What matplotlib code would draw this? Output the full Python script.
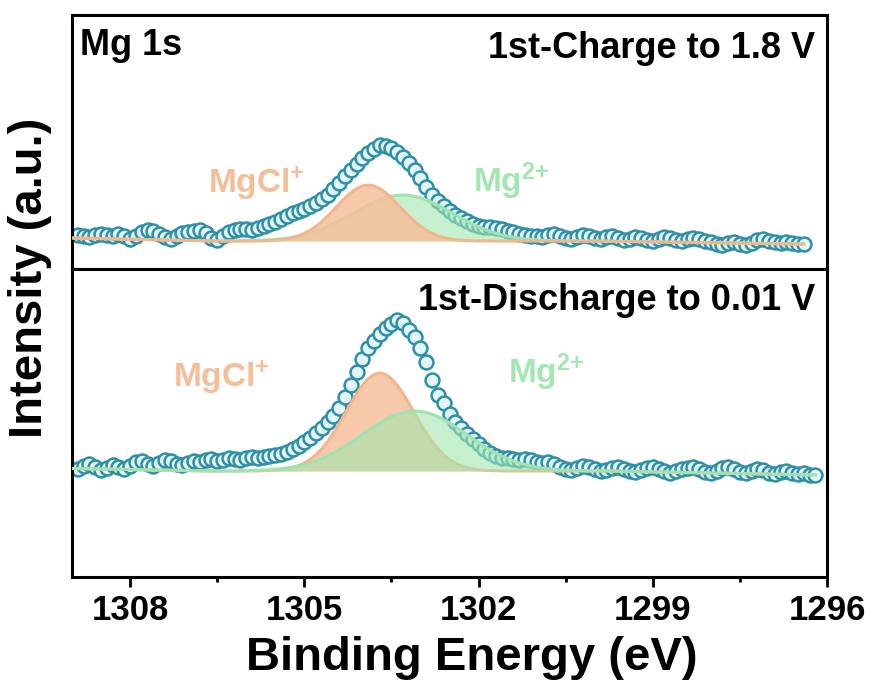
import numpy as np
import matplotlib
matplotlib.use("Agg")
import matplotlib.pyplot as plt

plt.rcParams["font.family"] = ["Liberation Sans", "DejaVu Sans"]
plt.rcParams["font.weight"] = "bold"
plt.rcParams["axes.labelweight"] = "bold"
plt.rcParams["mathtext.fontset"] = "custom"
plt.rcParams["mathtext.rm"] = "Liberation Sans:bold"
plt.rcParams["mathtext.bf"] = "Liberation Sans:bold"
plt.rcParams["mathtext.default"] = "rm"

# ---- Mg 1s, 1st charge to 1.8 V (0.1 eV step) ----
be_charge = np.round(np.arange(1308.9, 1296.35, -0.1), 1)
counts_charge = [
    34, 33, 32, 34, 35, 34, 33, 35, 33, 30,
    33, 37, 39, 38, 35, 32, 30, 33, 36, 37,
    38, 39, 36, 31, 29, 33, 37, 39, 40, 40,
    39, 41, 43, 45, 47, 50, 53, 56, 58, 60,
    63, 66, 70, 74, 80, 86, 93, 99, 105, 111,
    116, 120, 124, 123, 121, 117, 112, 106, 99, 91,
    82, 74, 68, 63, 58, 54, 51, 48, 45, 43,
    42, 42, 41, 40, 38, 37, 35, 34, 33, 33,
    32, 34, 35, 33, 31, 30, 32, 34, 33, 31,
    30, 32, 33, 31, 29, 30, 32, 31, 29, 28,
    30, 32, 31, 29, 28, 30, 31, 30, 28, 27,
    25, 24, 26, 27, 25, 24, 26, 29, 30, 28,
    27, 26, 27, 26, 25, 25,
]
# fitted components (height above background)
fit_be_charge = np.round(np.arange(1306.5, 1299.95, -0.1), 1)
mgcl_charge = [
    0.0, 0.0, 0.0, 0.0, 0.0, 0.0, 0.1, 0.1, 0.3, 0.5,
    0.8, 1.4, 2.2, 3.4, 5.2, 7.6, 10.7, 14.7, 19.4, 24.9,
    30.9, 37.0, 43.0, 48.3, 52.4, 55.1, 56.0, 55.1, 52.4, 48.3,
    43.0, 37.0, 30.9, 24.9, 19.4, 14.7, 10.7, 7.6, 5.2, 3.4,
    2.2, 1.4, 0.8, 0.5, 0.3, 0.1, 0.1, 0.0, 0.0, 0.0,
    0.0, 0.0, 0.0, 0.0, 0.0, 0.0, 0.0, 0.0, 0.0, 0.0,
    0.0, 0.0, 0.0, 0.0, 0.0, 0.0,
]
mg2_charge = [
    0.0, 0.0, 0.1, 0.1, 0.2, 0.3, 0.4, 0.6, 0.9, 1.2,
    1.6, 2.2, 2.9, 3.8, 4.9, 6.2, 7.8, 9.7, 11.8, 14.3,
    17.0, 19.9, 23.0, 26.3, 29.5, 32.8, 35.9, 38.7, 41.2, 43.2,
    44.7, 45.7, 46.0, 45.7, 44.7, 43.2, 41.2, 38.7, 35.9, 32.8,
    29.5, 26.3, 23.0, 19.9, 17.0, 14.3, 11.8, 9.7, 7.8, 6.2,
    4.9, 3.8, 2.9, 2.2, 1.6, 1.2, 0.9, 0.6, 0.4, 0.3,
    0.2, 0.1, 0.1, 0.0, 0.0, 0.0,
]
bg_charge = (31.0, 28.0, 25.0)  # left edge, under peaks, right end

# ---- Mg 1s, 1st discharge to 0.01 V ----
be_discharge = np.round(np.arange(1308.9, 1296.15, -0.1), 1)
counts_discharge = [
    108, 111, 113, 110, 107, 109, 112, 110, 108, 111,
    115, 116, 113, 111, 114, 117, 116, 113, 112, 114,
    116, 115, 117, 118, 116, 117, 119, 118, 117, 119,
    120, 119, 120, 121, 122, 123, 125, 128, 131, 135,
    139, 144, 149, 155, 161, 169, 180, 192, 205, 218,
    229, 236, 243, 249, 253, 257, 254, 247, 240, 229,
    215, 197, 182, 174, 163, 155, 149, 143, 138, 133,
    128, 124, 121, 119, 119, 118, 117, 118, 117, 115,
    114, 115, 113, 110, 108, 107, 109, 111, 110, 108,
    106, 107, 109, 110, 108, 106, 105, 107, 109, 110,
    108, 106, 104, 106, 108, 109, 110, 108, 105, 104,
    106, 109, 110, 108, 105, 104, 106, 108, 107, 104,
    103, 105, 106, 104, 103, 104, 102, 102,
]
fit_be_discharge = np.round(np.arange(1306.6, 1299.75, -0.1), 1)
mgcl_discharge = [
    0.0, 0.0, 0.0, 0.0, 0.0, 0.0, 0.0, 0.1, 0.1, 0.3,
    0.5, 0.8, 1.3, 2.2, 3.5, 5.3, 8.0, 11.5, 16.2, 22.2,
    29.4, 37.9, 47.3, 57.4, 67.6, 77.3, 85.7, 92.3, 96.6, 98.0,
    96.6, 92.3, 85.7, 77.3, 67.6, 57.4, 47.3, 37.9, 29.4, 22.2,
    16.2, 11.5, 8.0, 5.3, 3.5, 2.2, 1.3, 0.8, 0.5, 0.3,
    0.1, 0.1, 0.0, 0.0, 0.0, 0.0, 0.0, 0.0, 0.0, 0.0,
    0.0, 0.0, 0.0, 0.0, 0.0, 0.0, 0.0, 0.0, 0.0,
]
mg2_discharge = [
    0.0, 0.0, 0.0, 0.1, 0.1, 0.2, 0.3, 0.5, 0.7, 0.9,
    1.3, 1.7, 2.3, 3.0, 3.9, 5.1, 6.5, 8.1, 10.1, 12.4,
    15.0, 17.9, 21.1, 24.7, 28.4, 32.4, 36.4, 40.4, 44.3, 48.0,
    51.4, 54.4, 56.8, 58.5, 59.6, 60.0, 59.6, 58.5, 56.8, 54.4,
    51.4, 48.0, 44.3, 40.4, 36.4, 32.4, 28.4, 24.7, 21.1, 17.9,
    15.0, 12.4, 10.1, 8.1, 6.5, 5.1, 3.9, 3.0, 2.3, 1.7,
    1.3, 0.9, 0.7, 0.5, 0.3, 0.2, 0.1, 0.1, 0.0,
]
bg_discharge = (108.5, 106.0, 102.0)

ORANGE_FILL, ORANGE_EDGE = "#F4C09B", "#F3B58C"
GREEN_FILL, GREEN_EDGE = "#A3E6B0", "#9FE3AE"
DOT_EDGE, DOT_FACE = "#2E8FA8", "#E2F6FB"
X_LEFT, X_RIGHT = 1309, 1296


def draw_panel(ax, be, counts, fit_be, mgcl, mg2, bg, mgcl_on_top):
    ax.plot(be, counts, "o", ms=10, mfc=DOT_FACE, mec=DOT_EDGE, mew=1.8, zorder=2)
    comps = [(mgcl, ORANGE_FILL, ORANGE_EDGE, 0.85), (mg2, GREEN_FILL, GREEN_EDGE, 0.6)]
    if mgcl_on_top:
        comps = comps[::-1]
    for i, (comp, fc, ec, a) in enumerate(comps):
        top = bg[1] + np.asarray(comp)
        ax.fill_between(fit_be, bg[1], top, color=fc, alpha=a, lw=0, zorder=3 + i)
        ax.plot(np.r_[X_LEFT, fit_be, be[-1]], np.r_[bg[0], top, bg[2]],
                color=ec, lw=2.2, zorder=3 + i)
    ax.set_xlim(X_LEFT, X_RIGHT)
    ax.set_yticks([])
    for sp in ax.spines.values():
        sp.set_linewidth(2.2)


fig = plt.figure(figsize=(8.72, 6.93), dpi=100)
ax_top = fig.add_axes([0.0826, 0.6118, 0.8658, 0.3665])
ax_bot = fig.add_axes([0.0826, 0.1674, 0.8658, 0.4444])

draw_panel(ax_top, be_charge, counts_charge, fit_be_charge,
           mgcl_charge, mg2_charge, bg_charge, mgcl_on_top=True)
draw_panel(ax_bot, be_discharge, counts_discharge, fit_be_discharge,
           mgcl_discharge, mg2_discharge, bg_discharge, mgcl_on_top=False)
ax_top.set_ylim(0, 254)
ax_bot.set_ylim(0, 308)

ax_top.set_xticks([])
ax_bot.set_xticks([1308, 1305, 1302, 1299, 1296])
ax_bot.set_xticks([1306.5, 1303.5, 1300.5, 1297.5], minor=True)
ax_bot.tick_params(axis="x", which="major", direction="out", length=7, width=2,
                   labelsize=25, pad=5)
ax_bot.tick_params(axis="x", which="minor", direction="out", length=3.5, width=2)
ax_bot.set_xlabel("Binding Energy (eV)", fontsize=34, fontweight="bold")
ax_bot.xaxis.set_label_coords(0.53, -0.19)
fig.text(0.034, 0.599, "Intensity (a.u.)", rotation=90, ha="center", va="center",
         fontsize=34, fontweight="bold")

ax_top.text(0.011, 0.843, "Mg 1s", transform=ax_top.transAxes, fontsize=26)
ax_top.text(0.984, 0.831, "1st-Charge to 1.8 V", transform=ax_top.transAxes,
            ha="right", fontsize=26)
ax_bot.text(0.984, 0.867, "1st-Discharge to 0.01 V", transform=ax_bot.transAxes,
            ha="right", fontsize=26)

ax_top.text(0.180, 0.299, "MgCl$^{+}$", transform=ax_top.transAxes, fontsize=24,
            color="#F3BE98")
ax_top.text(0.531, 0.303, "Mg$^{2{+}}$", transform=ax_top.transAxes, fontsize=24,
            color="#A3E6B4")
ax_bot.text(0.134, 0.617, "MgCl$^{+}$", transform=ax_bot.transAxes, fontsize=24,
            color="#F3BE98")
ax_bot.text(0.577, 0.630, "Mg$^{2{+}}$", transform=ax_bot.transAxes, fontsize=24,
            color="#A3E6B4")

fig.savefig("out.png", dpi=100)
